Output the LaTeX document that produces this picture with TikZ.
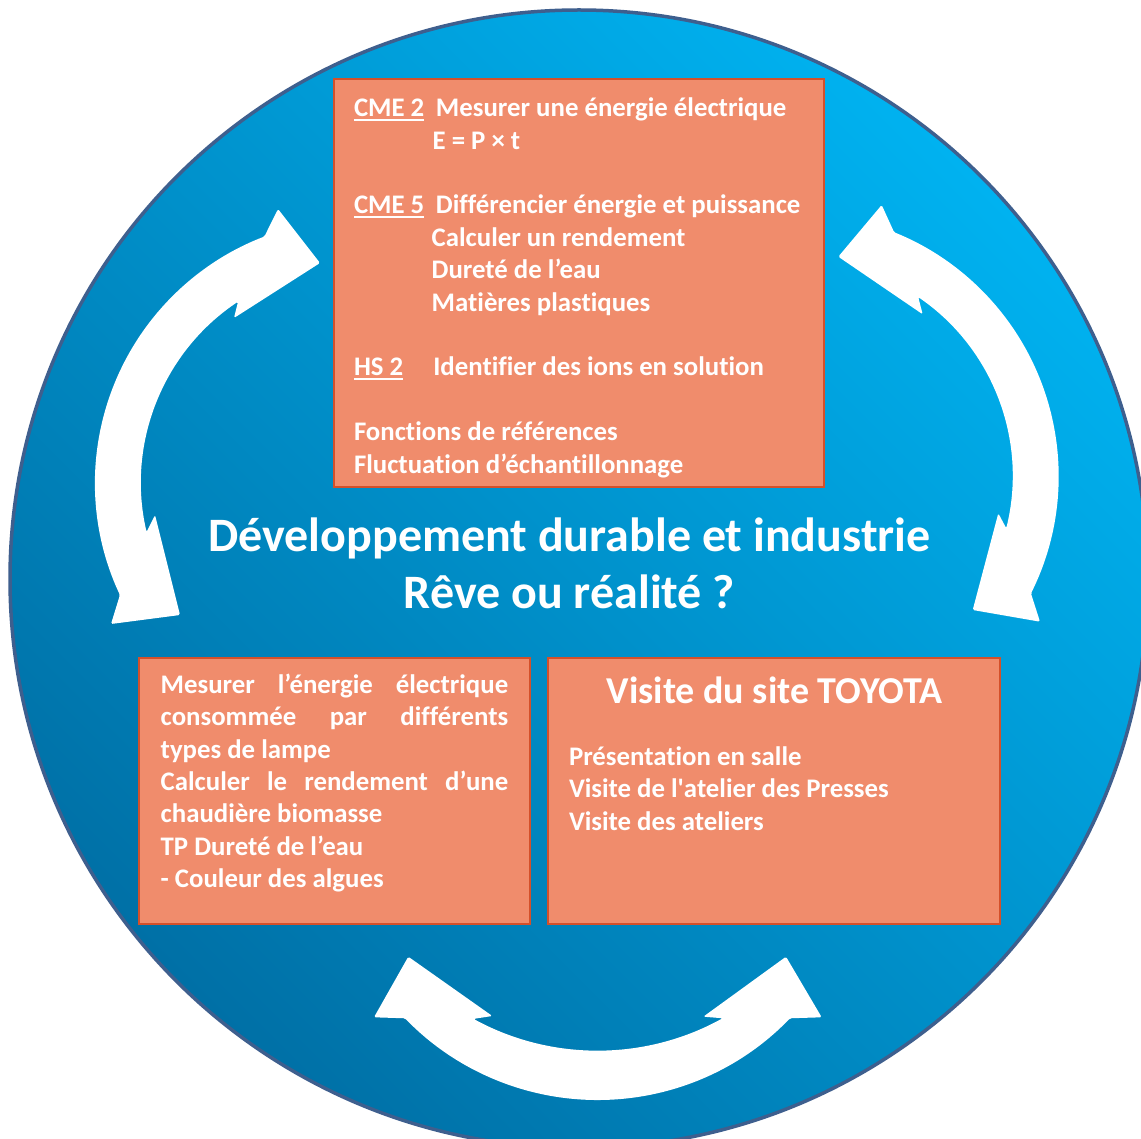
\documentclass[tikz,border=0pt]{standalone}
\usepackage{fontspec}
\setmainfont{Carlito}[Ligatures={TeX,NoCommon}]
\usetikzlibrary{calc}
\definecolor{circlight}{HTML}{00B2F0}
\definecolor{circdark}{HTML}{0070A6}
\definecolor{circline}{HTML}{3E5F8E}
\definecolor{boxfill}{HTML}{F08C6C}
\definecolor{boxline}{HTML}{D4502A}
\newcommand\myul[1]{\setbox0=\hbox{#1}\rlap{\rule[-4.3pt]{\wd0}{1.8pt}}\box0}
\newcommand\bodyfont{\fontsize{26.8}{32.4}\selectfont\bfseries}
\newcommand\titlefont{\fontsize{48}{57}\selectfont\bfseries}
\newcommand\headfont{\fontsize{38}{44}\selectfont\bfseries}
\tikzset{
  boxnode/.style={draw=boxline, fill=boxfill, line width=2.5pt, inner sep=0pt},
  txt/.style={text=white, inner sep=0pt, outer sep=0pt},
  arrowshape/.style={fill=white, draw=none, rounded corners=1.5pt},
}
\begin{document}
\begin{tikzpicture}[x=1pt,y=1pt]
\useasboundingbox (0,0) rectangle (1141,-1139);
\fill[white] (0,0) rectangle (1141,-1139);
\clip (0,0) rectangle (1141,-1139);
% big circle
\coordinate (cc) at (579,-579);
\draw[circline, line width=3.5pt, top color=circlight, bottom color=circdark, shading angle=-45]
  (cc) circle[radius=569];

% left arrow
\coordinate (cL) at (359,-483);
\fill[arrowshape] (278,-209) -- (320,-263) -- (234,-318)
  -- ($(cL)+(123.7:218)$) arc[start angle=123.7, end angle=193, radius=218]
  -- (155,-515) -- (180,-615) -- (111,-624)
  -- ($(cL)+(205.1:264)$) arc[start angle=205.1, end angle=111, radius=264]
  -- cycle;
% right arrow
\coordinate (cR) at (795.6,-476.1);
\fill[arrowshape] (881.7,-205) -- (838.3,-256.7) -- (922.7,-314.3)
  -- ($(cR)+(55.6:217)$) arc[start angle=55.6, end angle=-13.9, radius=217]
  -- (998.3,-513.3) -- (972.7,-610) -- (1040,-621.7)
  -- ($(cR)+(-26.5:263)$) arc[start angle=-26.5, end angle=68, radius=263]
  -- cycle;
% bottom arrow
\coordinate (cBo) at (597.5,-832.4);
\coordinate (cBi) at (597.5,-791.5);
\fill[arrowshape] (408.3,-956.7) -- (492.3,-1016)
  -- ($(cBi)+(241.4:259)$) arc[start angle=241.4, end angle=298.9, radius=259]
  -- (703.3,-1016.7) -- (786,-956.7) -- (821.7,-1017.3)
  -- ($(cBo)+(316:267.6)$) arc[start angle=316, end angle=224, radius=267.6]
  -- (374,-1017.3) -- cycle;

% boxes
\node[boxnode, minimum width=490pt, minimum height=408pt] (topbox) at (579,-283) {};
\node[boxnode, minimum width=391pt, minimum height=266pt] (leftbox) at (334.5,-791) {};
\node[boxnode, minimum width=452pt, minimum height=266pt] (rightbox) at (774,-791) {};

% top box text
\node[txt, anchor=base west] (toptext) at (354,-116.7) {\vtop{\bodyfont
  \hbox{\rlap{\myul{CME 2}}\kern82pt Mesurer une énergie électrique}
  \hbox{\kern78.7pt E = P × t}
  \hbox{}
  \hbox{\rlap{\myul{CME 5}}\kern82pt Différencier énergie et puissance}
  \hbox{\kern77.7pt Calculer un rendement}
  \hbox{\kern77.7pt Dureté de l’eau}
  \hbox{\kern77.7pt Matières plastiques}
  \hbox{}
  \hbox{\rlap{\myul{HS 2}}\kern79.3pt Identifier des ions en solution}
  \hbox{}
  \hbox{Fonctions de références}
  \hbox{Fluctuation d’échantillonnage}}};

% title
\node[txt, anchor=base] (title1) at (569.5,-551) {\titlefont Développement durable et industrie};
\node[txt, anchor=base] (title2) at (569.5,-608) {\titlefont Rêve ou réalité ?};

% left box text
\node[txt, anchor=base west] (lefttext) at (160.7,-693.3) {\vtop{\bodyfont
  \hbox{\makebox[347.6pt][s]{Mesurer l’énergie électrique}}
  \hbox{\makebox[347.6pt][s]{consommée par différents}}
  \hbox{types de lampe}
  \hbox{\makebox[347.6pt][s]{Calculer le rendement d’une}}
  \hbox{chaudière biomasse}
  \hbox{TP Dureté de l’eau}
  \hbox{- Couleur des algues}}};

% right box text
\node[txt, anchor=base] (righthead) at (774.5,-703.3) {\headfont Visite du site TOYOTA};
\node[txt, anchor=base west] (righttext) at (569,-765.5) {\vtop{\bodyfont
  \hbox{Présentation en salle}
  \hbox{Visite de l\textquotesingle atelier des Presses}
  \hbox{Visite des ateliers}}};
\end{tikzpicture}
\end{document}
